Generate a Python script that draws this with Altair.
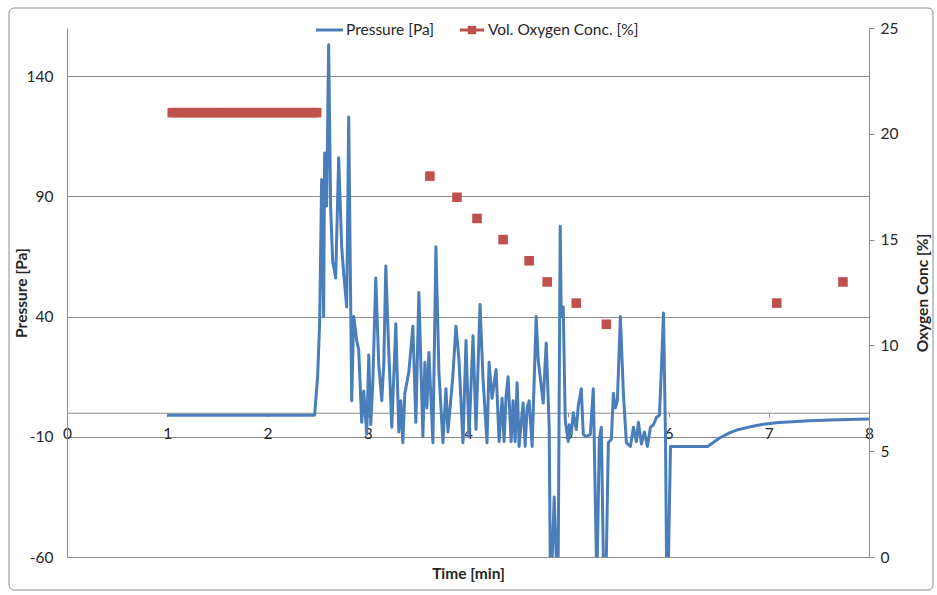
import altair as alt
import pandas as pd

# Pressure trace (time in minutes, pressure in Pa)
pressure_time = [
    1.00, 2.47, 2.50, 2.52, 2.54, 2.56, 2.57, 2.59, 2.61, 2.63, 2.65, 2.68, 2.71, 2.74,
    2.76, 2.79, 2.81, 2.84, 2.86, 2.89, 2.91, 2.94, 2.96, 2.99, 3.01, 3.03, 3.05, 3.08,
    3.11, 3.14, 3.16, 3.18, 3.21, 3.24, 3.28, 3.31, 3.33, 3.35, 3.37, 3.41, 3.45, 3.48,
    3.51, 3.55, 3.57, 3.59, 3.61, 3.65, 3.68, 3.71, 3.75, 3.78, 3.80, 3.85, 3.88, 3.91,
    3.95, 3.98, 4.01, 4.05, 4.08, 4.12, 4.15, 4.19, 4.21, 4.24, 4.28, 4.31, 4.34, 4.36,
    4.38, 4.40, 4.43, 4.45, 4.47, 4.49, 4.51, 4.54, 4.55, 4.57, 4.59, 4.61, 4.64, 4.68,
    4.70, 4.72, 4.75, 4.78, 4.81, 4.82, 4.84, 4.86, 4.88, 4.90, 4.92, 4.93, 4.95, 4.97,
    5.00, 5.01, 5.03, 5.05, 5.08, 5.10, 5.13, 5.15, 5.18, 5.22, 5.25, 5.28, 5.29, 5.31,
    5.33, 5.35, 5.38, 5.40, 5.43, 5.45, 5.47, 5.49, 5.52, 5.55, 5.58, 5.62, 5.65, 5.68,
    5.70, 5.73, 5.76, 5.79, 5.82, 5.85, 5.88, 5.91, 5.93, 5.95, 5.97, 5.98, 6.00, 6.02,
    6.39, 6.45, 6.51, 6.57, 6.62, 6.68, 6.75, 6.84, 6.92, 7.01, 7.10, 7.28, 7.40, 7.61,
    7.80, 8.00,
]
pressure_pa = [
    -1, -1, 15, 37, 97, 40, 108, 86, 153, 85, 63, 56, 106, 69,
    58, 44, 123, 5, 40, 30, 26, -4, 9, -9, 24, -5, 12, 56,
    20, 5, 20, 61, 25, -6, 37, -8, 5, -12.5, 8, 17, 36, -4,
    50, -10, 21, 2, 25, -12.5, 69, 17, -12.5, 10, -8, 16, 36, 22,
    -12.5, 30, -10, 32, -7, 45, 14, -12.5, 21, 6, 18, -12, 6, -12,
    7, 15, -12, 5, -12, 12.5, -14, 0, 4, -14, 2, 5, -14, 40,
    22, 15, 4, 29, -6, -60, -60, -35, -60, -60, 77.5, 40, 44, -3,
    -12, -5, -9, 0, -7, 3, 10, -9, -10, -9, 10, -60, -60, -11,
    -6, -60, -60, -12.5, -11, 8, 2, 5, 40, 8, -12.5, -14, -6, -12,
    -4, -13, -8, -14, -6, -5, -2, -1, 19, 41.5, -10, -60, -60, -14,
    -14, -12.3, -10.5, -9.2, -8.2, -7.2, -6.5, -5.6, -5.0, -4.5, -4.1, -3.6, -3.3, -3.0,
    -2.8, -2.6,
]

# Volumetric oxygen concentration readings (time in minutes, %)
oxygen_time = [
    1.05, 1.10, 1.15, 1.20, 1.25, 1.30, 1.35, 1.40, 1.45, 1.50, 1.55, 1.60, 1.65, 1.70,
    1.75, 1.80, 1.85, 1.90, 1.95, 2.00, 2.05, 2.10, 2.15, 2.20, 2.25, 2.30, 2.35, 2.40,
    2.45, 2.49,
    3.62, 3.89, 4.09, 4.35, 4.61, 4.79, 5.08, 5.38, 7.08, 7.74,
]
oxygen_pct = [
    21, 21, 21, 21, 21, 21, 21, 21, 21, 21, 21, 21, 21, 21,
    21, 21, 21, 21, 21, 21, 21, 21, 21, 21, 21, 21, 21, 21,
    21, 21,
    18, 17, 16, 15, 14, 13, 12, 11, 12, 13,
]

time_ticks = [0, 1, 2, 3, 4, 5, 6, 7, 8]
pressure_ticks = [-60, -10, 40, 90, 140]
oxygen_ticks = [0, 5, 10, 15, 20, 25]

FONT = "Lato"
FS = 15.5
TEXT = "#262626"
BLUE = "#4A7EBB"
RED = "#C0504D"
GREY = "#8C8C8C"
W, H = 802, 529
P_MIN, P_MAX = -60, 160

pressure = pd.DataFrame({"time": pressure_time, "pressure": pressure_pa})
oxygen = pd.DataFrame({"time": oxygen_time, "oxygen": oxygen_pct})
one_row = alt.Data(values=[{"k": 0}])

# plain hyphen-minus for negative tick labels
plain_label = "'' + datum.value"

# the time axis crosses the pressure axis at 0 Pa
zero_offset = -H * (0 - P_MIN) / (P_MAX - P_MIN)
x_axis = alt.Axis(
    values=time_ticks, labelExpr=plain_label, title="Time [min]", offset=zero_offset,
    grid=False, domainColor=GREY, tickColor=GREY, tickSize=4, labelPadding=10,
    labelFlush=False, labelOverlap=False, labelFontSize=FS, labelColor=TEXT,
    titleFontSize=FS, titleFontWeight="bold", titleColor=TEXT,
    titleY=H - (H + zero_offset) + 16, titleBaseline="middle",
)
x_enc = alt.X("time:Q", scale=alt.Scale(domain=[0, 8], nice=False), axis=x_axis)

pressure_line = alt.Chart(pressure).mark_line(
    color=BLUE, strokeWidth=3, clip=True, strokeJoin="round"
).encode(
    x=x_enc,
    y=alt.Y(
        "pressure:Q",
        scale=alt.Scale(domain=[P_MIN, P_MAX], nice=False, zero=False),
        axis=alt.Axis(
            orient="left", values=pressure_ticks, labelExpr=plain_label,
            title="Pressure [Pa]",
            grid=True, gridColor=GREY, gridWidth=1, domainColor=GREY, ticks=False,
            labelPadding=14, labelFontSize=FS, labelColor=TEXT,
            titleFontSize=FS, titleFontWeight="bold", titleColor=TEXT,
            titleX=-46, titleY=H / 2, titleAngle=270, titleBaseline="middle",
            titleAlign="center",
        ),
    ),
)

oxygen_points = alt.Chart(oxygen).mark_square(
    color=RED, size=92, opacity=1, filled=True
).encode(
    x=x_enc,
    y=alt.Y(
        "oxygen:Q",
        scale=alt.Scale(domain=[0, 25], nice=False),
        axis=alt.Axis(
            orient="right", values=oxygen_ticks, title="Oxygen Conc [%]",
            grid=False, domainColor=GREY, tickColor=GREY, tickSize=5,
            labelPadding=6, labelFontSize=FS, labelColor=TEXT,
            titleFontSize=FS, titleFontWeight="bold", titleColor=TEXT,
            titleX=53, titleY=H / 2, titleAngle=270, titleBaseline="middle",
            titleAlign="center",
        ),
    ),
)

# chart-area frame
frame = alt.Chart(one_row).mark_rect(
    fillOpacity=0, stroke=GREY, strokeWidth=1, cornerRadius=5
).encode(
    x=alt.value(-58), x2=alt.value(W + 64), y=alt.value(-20), y2=alt.value(H + 33)
)

# legend across the top
leg_y = 2
leg_blue = alt.Chart(one_row).mark_rule(color=BLUE, strokeWidth=3).encode(
    x=alt.value(249), x2=alt.value(276), y=alt.value(leg_y)
)
leg_blue_text = alt.Chart(one_row).mark_text(
    align="left", baseline="middle", font=FONT, fontSize=FS, color=TEXT
).encode(x=alt.value(279), y=alt.value(leg_y), text=alt.value("Pressure [Pa]"))
leg_red = alt.Chart(one_row).mark_rule(color=RED, strokeWidth=3).encode(
    x=alt.value(393), x2=alt.value(417), y=alt.value(leg_y)
)
leg_red_sq = alt.Chart(one_row).mark_square(color=RED, size=70, opacity=1).encode(
    x=alt.value(405), y=alt.value(leg_y)
)
leg_red_text = alt.Chart(one_row).mark_text(
    align="left", baseline="middle", font=FONT, fontSize=FS, color=TEXT
).encode(x=alt.value(421), y=alt.value(leg_y), text=alt.value("Vol. Oxygen Conc. [%]"))

chart = alt.layer(
    frame, pressure_line, oxygen_points,
    leg_blue, leg_blue_text, leg_red, leg_red_sq, leg_red_text,
).resolve_scale(
    y="independent"
).properties(
    width=W, height=H,
    autosize=alt.AutoSizeParams(type="none"),
    padding={"left": 67, "top": 28, "right": 68, "bottom": 38},
    background="white",
).configure_view(
    stroke=None
).configure_axis(
    labelFont=FONT, titleFont=FONT
)

chart.save("out.html", embed_options={"renderer": "svg", "actions": False})
